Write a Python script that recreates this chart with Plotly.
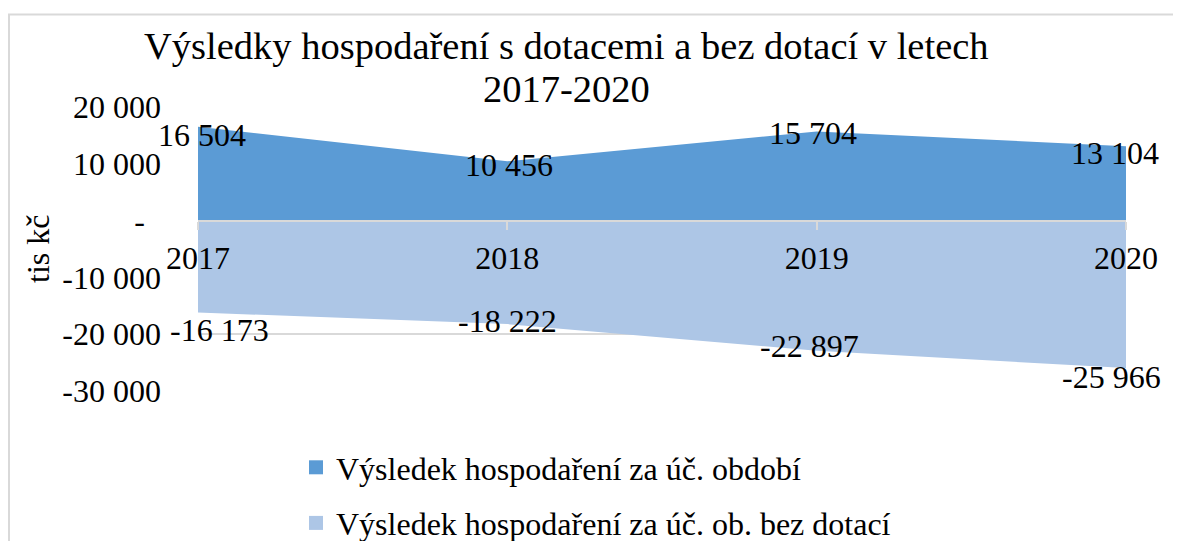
import plotly.graph_objects as go

years = ["2017", "2018", "2019", "2020"]
s1_name = "Výsledek hospodaření za úč. období"
s2_name = "Výsledek hospodaření za úč. ob. bez dotací"
s1_values = [16504, 10456, 15704, 13104]
s2_values = [-16173, -18222, -22897, -25966]
y_tickvals = [-30000, -20000, -10000, 0, 10000, 20000]
y_ticktext = ["-30 000", "-20 000", "-10 000", "-\u00a0\u00a0", "10 000", "20 000"]

title_lines = ["Výsledky hospodaření s dotacemi a bez dotací v letech", "2017-2020"]
y_title = "tis kč"

C1 = "#5B9BD5"
C2 = "#ADC6E6"
GRID = "#D9D9D9"
FONT = "Liberation Serif"

# figure geometry (page has an 8px body margin)
W, H = 1165, 533
ML, MR, MT, MB = 190, 47, 99, 0
PW, PH = W - ML - MR, H - MT - MB
PLOT_BOTTOM = 383  # figure px
DOM0 = (H - PLOT_BOTTOM) / PH


def px_x(x):
    return (x - ML) / PW


def px_y(y):
    return (H - y) / PH


# label offsets (pixels) for data labels
s1_shift = [(4, -8), (2, -4), (-4, -2), (-11, -7)]
s2_shift = [(21, -18), (0, 3), (-7, 5), (-15, -9)]


def fmt(v):
    return f"{v:,}".replace(",", " ")


fig = go.Figure()
fig.add_trace(go.Scatter(x=years, y=s2_values, mode="lines", fill="tozeroy",
                         fillcolor=C2, line=dict(width=0, color=C2),
                         showlegend=False, hoverinfo="skip"))
fig.add_trace(go.Scatter(x=years, y=s1_values, mode="lines", fill="tozeroy",
                         fillcolor=C1, line=dict(width=0, color=C1),
                         showlegend=False, hoverinfo="skip"))
# legend entries
fig.add_trace(go.Scatter(x=[None], y=[None], mode="markers", name=s1_name,
                         marker=dict(symbol="square", size=14, color=C1),
                         legendgroup="a"))
fig.add_trace(go.Scatter(x=[None], y=[None], mode="markers", name=s2_name,
                         marker=dict(symbol="square", size=14, color=C2),
                         legendgroup="b"))

annotations = []
for vals, shifts in ((s1_values, s1_shift), (s2_values, s2_shift)):
    for i, (v, (dx, dy)) in enumerate(zip(vals, shifts)):
        annotations.append(dict(x=i, y=v, xref="x", yref="y", text=fmt(v),
                                showarrow=False, xshift=dx, yshift=dy,
                                font=dict(family=FONT, size=32, color="black")))

for line, ty in zip(title_lines, (38, 81)):
    annotations.append(dict(x=px_x(558), y=px_y(ty), xref="paper", yref="paper",
                            text=line, showarrow=False, xanchor="center",
                            yanchor="middle",
                            font=dict(family=FONT, size=38.5, color="black")))

# y-axis title
annotations.append(dict(x=px_x(30), y=px_y(241), xref="paper", yref="paper",
                        text=y_title, showarrow=False, textangle=-90,
                        xanchor="center", yanchor="middle",
                        font=dict(family=FONT, size=32, color="black")))

zero_pos = DOM0 + (1 - DOM0) * (0 - (-30000)) / 50000

fig.update_layout(
    width=W, height=H,
    margin=dict(l=ML, r=MR, t=MT, b=MB, autoexpand=False),
    paper_bgcolor="white", plot_bgcolor="white",
    font=dict(family=FONT, size=32, color="black"),
    xaxis=dict(type="category", range=[0, 3], anchor="free", position=zero_pos,
               showline=True, linecolor=GRID, linewidth=2,
               ticks="outside", ticklen=8, tickwidth=2, tickcolor=GRID,
               showgrid=False, zeroline=False, automargin=False,
               ticklabelstandoff=1,
               tickfont=dict(family=FONT, size=32, color="black")),
    yaxis=dict(range=[-30000, 20000], domain=[DOM0, 1],
               tickvals=y_tickvals, ticktext=y_ticktext,
               showgrid=True, gridcolor=GRID, gridwidth=2, zeroline=False,
               showline=False, ticks="", automargin=False,
               ticklabelstandoff=36,
               tickfont=dict(family=FONT, size=32, color="black")),
    legend=dict(x=288 / W, xanchor="left", xref="container",
                y=1 - 432 / H, yanchor="top", yref="container",
                orientation="v", tracegroupgap=11,
                font=dict(family=FONT, size=32, color="black"),
                bgcolor="rgba(0,0,0,0)"),
    annotations=annotations,
    shapes=[dict(type="rect", xref="paper", yref="paper",
                 x0=px_x(1), x1=px_x(1200),
                 y0=px_y(600), y1=px_y(6.5),
                 line=dict(color=GRID, width=2), fillcolor="rgba(0,0,0,0)",
                 layer="below")],
)

fig.write_html("out.html")
